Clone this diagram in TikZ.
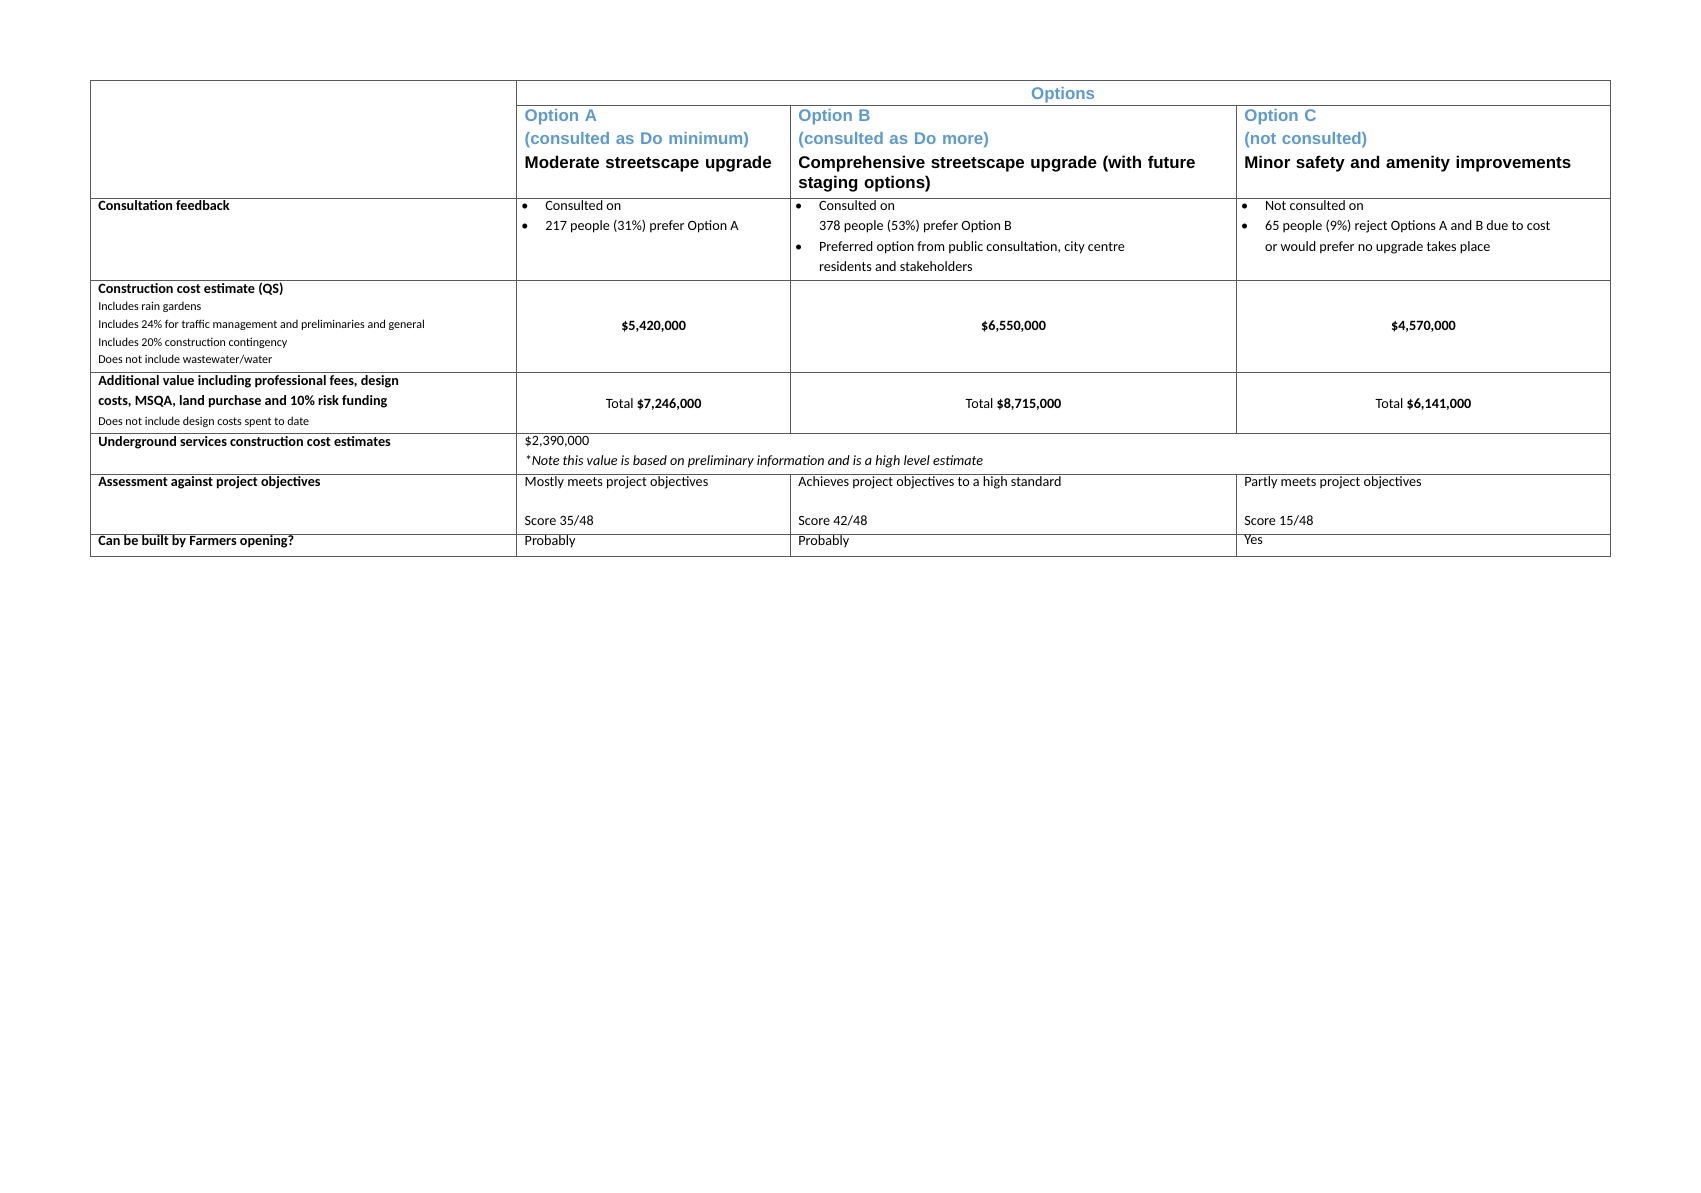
\documentclass[tikz,border=0pt]{standalone}
\usepackage{fontspec}
\setmainfont{Carlito}
\newfontfamily\arialfont{Liberation Sans}
\usepackage{xcolor}
\definecolor{optblue}{RGB}{91,155,213}
\tikzset{
  cell/.style={anchor=north west,inner sep=0pt,align=left,font=\fontsize{13}{18.5}\selectfont},
  small/.style={anchor=north west,inner sep=0pt,align=left,font=\fontsize{11}{16.3}\selectfont},
  head/.style={anchor=north west,inner sep=0pt,align=left,font=\arialfont\bfseries\fontsize{15.5}{21.5}\selectfont},
  mid/.style={inner sep=0pt,align=center,font=\fontsize{13}{18}\selectfont},
  rule/.style={draw=black!65,line width=0.9pt}
}
\newcommand{\bul}{\makebox[22pt][l]{\textbullet}}
\begin{document}
\begin{tikzpicture}[x=1pt,y=-1pt]
  \useasboundingbox (0,0) rectangle (1560,1094);
  %Grid
  \draw [rule] (83,74) rectangle (1477,510);
  \foreach \y in {182,257,342,398,435,490} \draw [rule] (83,\y) -- (1477,\y);
  \draw [rule] (474,97) -- (1477,97);
  \draw [rule] (474,74) -- (474,510);
  \foreach \x in {725,1134} {
    \draw [rule] (\x,97) -- (\x,398);
    \draw [rule] (\x,435) -- (\x,510);
  }

  % Header
  \node (opts) [inner sep=0pt,font=\arialfont\bfseries\fontsize{15.5}{18}\selectfont,text=optblue] at (975,87) {Options};
  \node (hdA) [head,text width=240pt] at (481,100) {\textcolor{optblue}{Option A}\\\textcolor{optblue}{(consulted as Do minimum)}\\Moderate streetscape upgrade};
  \node (hdB) [head,text width=395pt] at (732,100) {\textcolor{optblue}{Option B}\\\textcolor{optblue}{(consulted as Do more)}\\Comprehensive streetscape upgrade (with future\\[-3pt] staging options)};
  \node (hdC) [head,text width=330pt] at (1141,100) {\textcolor{optblue}{Option C}\\\textcolor{optblue}{(not consulted)}\\Minor safety and amenity improvements};

  % Row labels
  \node (lbFeed) [cell] at (90,184) {\textbf{Consultation feedback}};
  \node (lbCost) [cell] at (90,259) {\textbf{Construction cost estimate (QS)}};
  \node (lbCostS) [small] at (90,277) {Includes rain gardens\\Includes 24\% for traffic management and preliminaries and general\\Includes 20\% construction contingency\\Does not include wastewater/water};
  \node (lbAdd) [cell] at (90,344) {\textbf{Additional value including professional fees, design}\\\textbf{costs, MSQA, land purchase and 10\% risk funding}};
  \node (lbAddS) [small] at (90,382) {Does not include design costs spent to date};
  \node (lbUnder) [cell] at (90,400) {\textbf{Underground services construction cost estimates}};
  \node (lbAssess) [cell] at (90,437) {\textbf{Assessment against project objectives}};
  \node (lbBuilt) [cell] at (90,491) {\textbf{Can be built by Farmers opening?}};

  % Consultation feedback
  \node (fbA) [cell] at (478,184) {\bul Consulted on\\\bul 217 people (31\%) prefer Option A};
  \node (fbB) [cell] at (729,184) {\bul Consulted on\\\hspace*{22pt}378 people (53\%) prefer Option B\\\bul Preferred option from public consultation, city centre\\\hspace*{22pt}residents and stakeholders};
  \node (fbC) [cell] at (1138,184) {\bul Not consulted on\\\bul 65 people (9\%) reject Options A and B due to cost\\\hspace*{22pt}or would prefer no upgrade takes place};

  % Costs
  \node (costA) [mid] at (599.5,300) {\textbf{\$5,420,000}};
  \node (costB) [mid] at (929.5,300) {\textbf{\$6,550,000}};
  \node (costC) [mid] at (1305.5,300) {\textbf{\$4,570,000}};
  \node (totA) [mid] at (599.5,371) {Total \textbf{\$7,246,000}};
  \node (totB) [mid] at (929.5,371) {Total \textbf{\$8,715,000}};
  \node (totC) [mid] at (1305.5,371) {Total \textbf{\$6,141,000}};

  % Underground
  \node (under) [cell] at (481,400) {\$2,390,000\\\textit{*Note this value is based on preliminary information and is a high level estimate}};

  % Assessment
  \node (asA) [cell] at (481,437) {Mostly meets project objectives\\[17pt]Score 35/48};
  \node (asB) [cell] at (732,437) {Achieves project objectives to a high standard\\[17pt]Score 42/48};
  \node (asC) [cell] at (1141,437) {Partly meets project objectives\\[17pt]Score 15/48};

  % Built
  \node (biA) [cell] at (481,491) {Probably};
  \node (biB) [cell] at (732,491) {Probably};
  \node (biC) [cell] at (1141,491) {Yes};
\end{tikzpicture}
\end{document}
